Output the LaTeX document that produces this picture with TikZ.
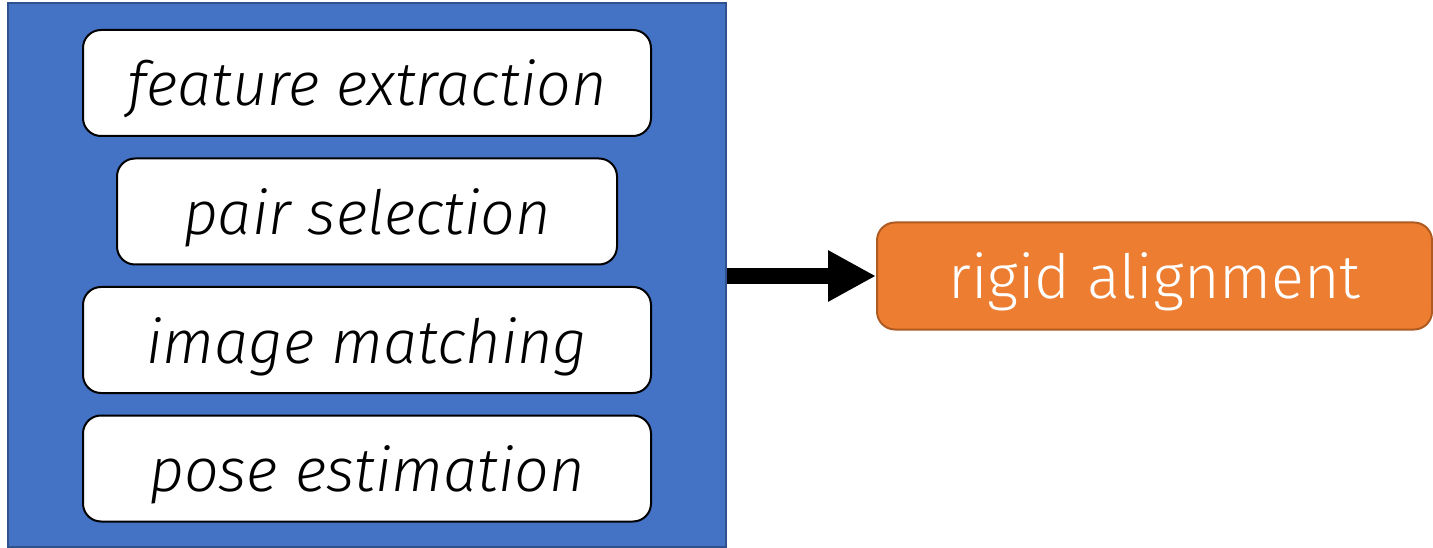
\documentclass[tikz,border=0pt]{standalone}
\usepackage{fontspec}
\setmainfont{Fira Sans Light}[ItalicFont={Fira Sans Light Italic}]
\usetikzlibrary{arrows.meta}
\definecolor{bluefill}{HTML}{4472C4}
\definecolor{blueline}{HTML}{2F528F}
\definecolor{orfill}{HTML}{ED7D31}
\definecolor{orline}{HTML}{AE5A21}
\newcommand{\lowered}[1]{\raisebox{-23pt}[0pt][0pt]{#1}}
\tikzset{
  stage/.style={draw=black, line width=2pt, fill=white, rounded corners=18pt,
    minimum height=106pt, inner sep=0pt, font=\fontsize{61}{66}\selectfont\itshape},
  panel/.style={draw=blueline, line width=2pt, fill=bluefill, minimum width=718pt,
    minimum height=544pt, inner sep=0pt},
  outbox/.style={draw=orline, line width=2pt, fill=orfill, rounded corners=18pt,
    minimum width=555pt, minimum height=107pt, inner sep=0pt, text=white,
    font=\fontsize{61}{66}\selectfont},
  bigarrow/.style={line width=16pt, -{Triangle[length=48pt,width=48pt]}}
}
\begin{document}
\begin{tikzpicture}[x=1pt,y=-1pt]
\useasboundingbox (0,0) rectangle (1433,548);
\node[panel] (panel) at (367,275) {};
\node[stage, minimum width=568pt] (fe) at (367,83) {\lowered{feature extraction}};
\node[stage, minimum width=500pt] (ps) at (367,211.5) {\lowered{pair selection}};
\node[stage, minimum width=568pt] (im) at (367,340) {\lowered{image matching}};
\node[stage, minimum width=568pt] (pe) at (367,468.5) {\lowered{pose estimation}};
\node[outbox] (ra) at (1154.5,276) {\lowered{rigid alignment}};
\draw[bigarrow] (panel.east |- ra.west) -- (ra.west);
\end{tikzpicture}
\end{document}
